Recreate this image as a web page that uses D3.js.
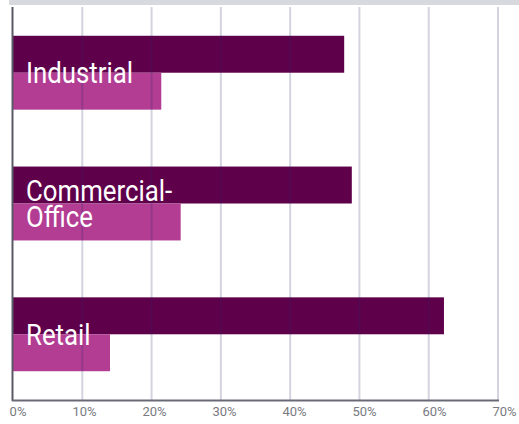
<!DOCTYPE html>
<html><head><meta charset="utf-8">
<script src="https://cdn.jsdelivr.net/npm/d3@7"></script>
<style>html,body{margin:0;padding:0;background:#fff;}svg{display:block;}</style>
</head><body>
<script>
const categories = ["Industrial", "Commercial-Office", "Retail"];
const categoryLines = [["Industrial"], ["Commercial-", "Office"], ["Retail"]];
const seriesA = [47.8, 48.9, 62.2];
const seriesB = [21.4, 24.2, 14.0];
const tickValues = [0, 10, 20, 30, 40, 50, 60, 70];
const tickLabels = ["0%", "10%", "20%", "30%", "40%", "50%", "60%", "70%"];

const W = 519, H = 424;
const svg = d3.select("body").append("svg").attr("width", W).attr("height", H);

const x = d3.scaleLinear().domain([0, 70]).range([13, 498]);
const xLab = d3.scaleLinear().domain([10, 70]).range([84.5, 504.5]);
const y = d3.scaleBand().domain(categories).range([7, 400]).paddingInner(0.435).paddingOuter(0.22);
const half = y.bandwidth() / 2;

svg.append("rect").attr("x", 9).attr("y", 0).attr("width", W - 9).attr("height", 5).attr("fill", "#d8d9df");

const g = svg.append("g");
categories.forEach((c, i) => {
  g.append("rect").attr("x", x(0)).attr("y", y(c)).attr("width", x(seriesA[i]) - x(0)).attr("height", half).attr("fill", "#5f004b");
  g.append("rect").attr("x", x(0)).attr("y", y(c) + half).attr("width", x(seriesB[i]) - x(0)).attr("height", half).attr("fill", "#b23d93");
});

svg.append("g").selectAll("line").data(tickValues.slice(1)).join("line")
  .attr("x1", d => x(d)).attr("x2", d => x(d)).attr("y1", 7).attr("y2", 400)
  .attr("stroke", "rgb(40,40,100)").attr("stroke-opacity", 0.2).attr("stroke-width", 2);

svg.append("line").attr("x1", 12.5).attr("x2", 12.5).attr("y1", 7).attr("y2", 401).attr("stroke", "#5a5a66").attr("stroke-width", 2);
svg.append("line").attr("x1", 12).attr("x2", 499).attr("y1", 400.5).attr("y2", 400.5).attr("stroke", "#6a6a76").attr("stroke-width", 2);

svg.append("g").selectAll("text").data(tickValues).join("text")
  .attr("x", (d, i) => i === 0 ? 18 : xLab(d)).attr("y", 416)
  .attr("text-anchor", "middle").attr("font-family", "Roboto, sans-serif").attr("font-size", 13)
  .attr("fill", "#7a7a80").text((d, i) => tickLabels[i]);

categories.forEach((c, i) => {
  const lines = categoryLines[i];
  const center = y(c) + half;
  const lh = 26;
  const firstBase = center + 10.5 - (lines.length - 1) * lh / 2;
  const t = svg.append("text").attr("font-family", "Roboto, sans-serif").attr("font-size", 29)
    .attr("fill", "#ffffff").attr("transform", `translate(26,0) scale(0.89,1)`);
  lines.forEach((l, k) => {
    t.append("tspan").attr("x", 0).attr("y", firstBase + k * lh).text(l);
  });
});
</script>
</body></html>
